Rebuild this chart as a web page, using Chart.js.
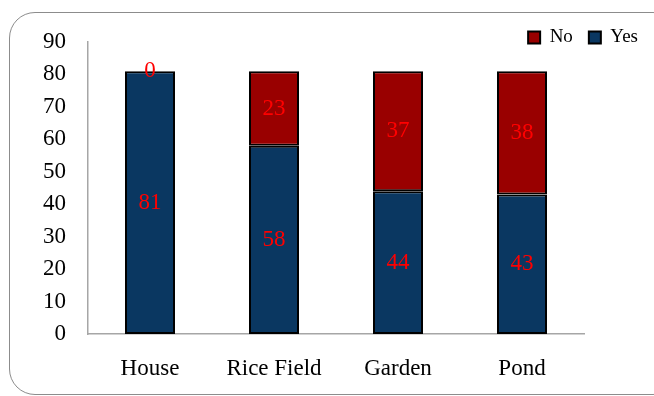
<!DOCTYPE html>
<html>
<head>
<meta charset="utf-8">
<script src="https://cdn.jsdelivr.net/npm/chart.js@4"></script>
<style>
  html, body { margin: 0; padding: 0; background: #fff; overflow: hidden; }
  #wrap { position: relative; width: 654px; height: 396px; }
  #frame {
    position: absolute; left: 9px; top: 12px; width: 670px; height: 383px;
    border: 1.5px solid #8c8c8c; border-radius: 26px; box-sizing: border-box;
  }
  #chart { position: absolute; left: 0; top: 0; }
</style>
</head>
<body>
<div id="wrap">
  <div id="frame"></div>
  <canvas id="chart" width="654" height="396"></canvas>
</div>
<script>
const categories = ['House', 'Rice Field', 'Garden', 'Pond'];
const yesValues = [81, 58, 44, 43];
const noValues = [0, 23, 37, 38];
const yTicks = [0, 10, 20, 30, 40, 50, 60, 70, 80, 90];

const serif = "'Liberation Serif', 'Times New Roman', serif";

// draws the red value labels in the middle of each segment
const valueLabels = {
  id: 'valueLabels',
  afterDatasetsDraw(chart) {
    const ctx = chart.ctx;
    ctx.save();
    ctx.fillStyle = '#ff0000';
    ctx.font = '23px ' + serif;
    ctx.textAlign = 'center';
    ctx.textBaseline = 'middle';
    chart.data.datasets.forEach((ds, i) => {
      chart.getDatasetMeta(i).data.forEach((bar, j) => {
        const p = bar.getProps(['x', 'y', 'base'], true);
        ctx.fillText(String(ds.data[j]), p.x, (p.y + p.base) / 2);
      });
    });
    ctx.restore();
  }
};

// legend sits in the top right corner without pushing the plot down
const cornerLegend = {
  id: 'cornerLegend',
  beforeInit(chart) {
    const fit = chart.legend.fit;
    chart.legend.fit = function () {
      fit.call(this);
      this.height = 30;
    };
  },
  afterLayout(chart) {
    chart.legend.right = chart.width;
    chart.legend.bottom = chart.legend.top + 50;
  }
};

new Chart(document.getElementById('chart'), {
  type: 'bar',
  data: {
    labels: categories,
    datasets: [
      {
        label: 'Yes',
        data: yesValues,
        backgroundColor: '#0a3761',
        borderColor: '#000000',
        borderWidth: 2,
        borderSkipped: false,
      },
      {
        label: 'No',
        data: noValues,
        backgroundColor: '#990000',
        borderColor: '#000000',
        borderWidth: 2,
        borderSkipped: false,
      },
    ],
  },
  options: {
    responsive: false,
    animation: false,
    layout: { padding: { top: 12, right: 70, bottom: 0, left: 0 } },
    datasets: { bar: { barPercentage: 50 / 124, categoryPercentage: 1, inflateAmount: 0 } },
    scales: {
      x: {
        stacked: true,
        grid: { display: false, drawTicks: false },
        border: { display: true, color: '#a6a6a6', width: 1.5 },
        ticks: { color: '#000', font: { family: serif, size: 23 }, padding: 21 },
        afterFit(scale) { scale.height = 62; },
      },
      y: {
        stacked: true,
        min: 0,
        max: 90,
        grid: { display: false, drawTicks: false },
        border: { display: true, color: '#a6a6a6', width: 1.5 },
        afterBuildTicks(scale) { scale.ticks = yTicks.map(v => ({ value: v })); },
        ticks: { color: '#000', font: { family: serif, size: 23 }, padding: 22 },
        afterFit(scale) { scale.width = 88; },
      },
    },
    plugins: {
      legend: {
        position: 'top',
        align: 'end',
        reverse: true,
        labels: {
          boxWidth: 12,
          boxHeight: 12,
          padding: 16,
          color: '#000',
          font: { family: serif, size: 19 },
        },
      },
      tooltip: { enabled: false },
    },
  },
  plugins: [valueLabels, cornerLegend],
});
</script>
</body>
</html>
